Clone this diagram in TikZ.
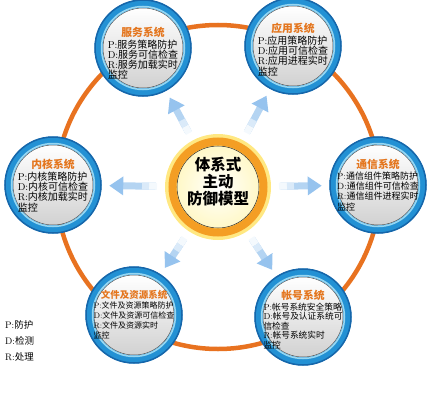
\documentclass[tikz,border=0pt]{standalone}
\usepackage{fontspec}
\newfontfamily\cjk{Noto Sans CJK SC}
\usepackage{xcolor}
\usetikzlibrary{arrows.meta,calc,positioning}
\definecolor{ringorange}{RGB}{232,114,32}
\definecolor{satblue}{RGB}{35,145,212}
\definecolor{satdark}{RGB}{22,102,170}
\definecolor{satlight}{RGB}{150,215,242}
\definecolor{coreorange}{RGB}{244,158,36}
\definecolor{coreglow}{RGB}{255,232,130}
\definecolor{corefill}{RGB}{255,248,200}
\definecolor{titleorange}{RGB}{228,118,30}
\definecolor{arrowblue}{RGB}{180,212,242}
\definecolor{headblue}{RGB}{150,195,238}
\newcommand{\pdr}[2]{{\rmfamily #1:}#2}

\tikzset{
  sat/.style={circle,minimum size=80pt,inner sep=0pt,draw=black!70,line width=0.5pt,
    top color=white,bottom color=black!18},
  head/.style={font=\cjk\bfseries\fontsize{10.8}{11}\selectfont,text=titleorange,inner sep=0pt},
  body/.style={font=\cjk\fontsize{10}{10.3}\selectfont,align=left,inner sep=0pt},
  arr/.style={line width=7pt,arrowblue,shorten <=21pt,shorten >=16pt,
    -{Triangle[width=18pt,length=14pt,color=headblue]}},
  fade/.style={line width=7pt,arrowblue!#1!white},
}

\begin{document}
\begin{tikzpicture}[x=1pt,y=-1pt]
  \useasboundingbox (0,0) rectangle (433,412);
  \coordinate (mid) at (218,187);
  \draw[ringorange,line width=4.5pt] (mid) circle (162pt);

  % centre
  \fill[coreglow] (mid) circle (53pt);
  \node[circle,minimum size=82pt,inner sep=0pt,draw=black!80,line width=0.6pt,
    inner color=white,outer color=corefill] (core) at (mid) {};
  \draw[coreorange,line width=8pt] (core.center) circle (45.5pt);
  \node[font=\cjk\bfseries\fontsize{15.5}{17}\selectfont,align=center,inner sep=0pt]
    (core-t) at ([yshift=5pt]core.center) {体系式\\主动\\防御模型};

  % satellites
  \node[sat] (fuwu) at (143,48) {};
  \node[sat] (yingyong) at (293,46) {};
  \node[sat] (neihe) at (53,185) {};
  \node[sat] (tongxin) at (378,185) {};
  \node[sat] (wenjian) at (134,315) {};
  \node[sat] (zhanghao) at (303,317) {};
  \foreach \s in {fuwu,yingyong,neihe,tongxin,wenjian,zhanghao}{
    \draw[satblue,line width=8pt] (\s.center) circle (44.5pt);
    \draw[satdark,line width=1.5pt] (\s.center) circle (48pt);
    \draw[satlight,line width=1.5pt] (\s.center) circle (41.5pt);
    \draw[arr] (core) -- (\s);
    \draw[fade=15] ($(core)!61pt!(\s)$) -- ($(core)!69pt!(\s)$);
    \draw[fade=50] ($(core)!69pt!(\s)$) -- ($(core)!76pt!(\s)$);
  }

  \node[head] (fuwu-h) at ([yshift=16pt]fuwu.center) {服务系统};
  \node[body,below=2pt of fuwu-h] (fuwu-b)
    {\pdr{P}{服务策略防护}\\\pdr{D}{服务可信检查}\\\pdr{R}{服务加载实时}\\监控};

  \node[head] (yingyong-h) at ([yshift=18pt]yingyong.center) {应用系统};
  \node[body,below=2pt of yingyong-h] (yingyong-b)
    {\pdr{P}{应用策略防护}\\\pdr{D}{应用可信检查}\\\pdr{R}{应用进程实时}\\监控};

  \node[head] (neihe-h) at ([yshift=21pt]neihe.center) {内核系统};
  \node[body,below=2pt of neihe-h] (neihe-b)
    {\pdr{P}{内核策略防护}\\\pdr{D}{内核可信检查}\\\pdr{R}{内核加载实时}\\监控};

  \node[head] (tongxin-h) at ([yshift=21pt]tongxin.center) {通信系统};
  \node[body,font=\cjk\fontsize{9}{10.3}\selectfont,below=2pt of tongxin-h] (tongxin-b)
    {\pdr{P}{通信组件策略防护}\\\pdr{D}{通信组件可信检查}\\\pdr{R}{通信组件进程实时}\\监控};

  \node[head,font=\cjk\bfseries\fontsize{9.5}{10}\selectfont] (wenjian-h)
    at ([yshift=20pt]wenjian.center) {文件及资源系统};
  \node[body,font=\cjk\fontsize{8}{10}\selectfont,below=2pt of wenjian-h] (wenjian-b)
    {\pdr{P}{文件及资源策略防护}\\\pdr{D}{文件及资源可信检查}\\\pdr{R}{文件及资源实时}\\监控};

  \node[head] (zhanghao-h) at ([yshift=22pt]zhanghao.center) {帐号系统};
  \node[body,font=\cjk\fontsize{8.7}{9.5}\selectfont,below=2pt of zhanghao-h] (zhanghao-b)
    {\pdr{P}{帐号系统安全策略}\\\pdr{D}{帐号及认证系统可}\\信检查\\\pdr{R}{帐号系统实时}\\监控};

  % legend
  \node[font=\cjk\fontsize{9.5}{16}\selectfont,align=left,anchor=north west,inner sep=0pt]
    (legend) at (5,320) {\pdr{P}{防护}\\\pdr{D}{检测}\\\pdr{R}{处理}};
\end{tikzpicture}
\end{document}
